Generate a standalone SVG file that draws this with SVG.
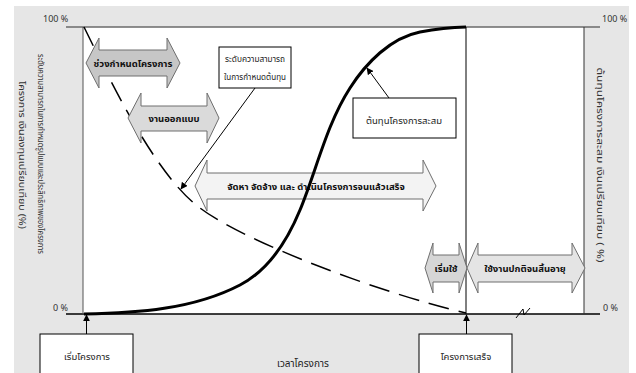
<svg xmlns="http://www.w3.org/2000/svg" width="636" height="373" viewBox="0 0 636 373">
  <defs>
    <style>
      .t { font-family: "Noto Sans Thai", "Tahoma", "Leelawadee UI", "DejaVu Sans", "Liberation Sans", sans-serif; fill: #222; }
      .lbl { font-size: 9.5px; text-anchor: middle; }
      .ax { font-size: 9px; fill: #333; }
      .vax { font-size: 8.5px; fill: #333; text-anchor: middle; }
      .ph { font-size: 9.5px; font-weight: bold; text-anchor: middle; fill: #111; }
      .box { fill: #fff; stroke: #000; stroke-width: 1; }
      .band { stroke: #6e6e6e; stroke-width: 1; }
      .lead { stroke: #000; stroke-width: 1; fill: none; }
    </style>
    <marker id="tip" viewBox="0 0 10 10" refX="9" refY="5" markerWidth="7" markerHeight="7" orient="auto-start-reverse" markerUnits="userSpaceOnUse">
      <path d="M0,0 L10,5 L0,10 Z" fill="#000"/>
    </marker>
  </defs>

  <!-- canvas -->
  <rect x="0" y="0" width="636" height="373" fill="#fff"/>
  <rect x="14" y="6" width="615" height="367" fill="#e6e6e6"/>
  <rect x="83" y="27" width="501" height="287" fill="#fff"/>

  <!-- axes and frame -->
  <g id="axes">
    <line x1="66" y1="27" x2="600" y2="27" stroke="#6a6a6a" stroke-width="1.5"/>
    <line x1="66" y1="314" x2="600" y2="314" stroke="#000" stroke-width="1.3"/>
    <line x1="83" y1="27" x2="83" y2="314" stroke="#555" stroke-width="1"/>
    <line x1="466" y1="27" x2="466" y2="314" stroke="#000" stroke-width="1"/>
    <line x1="584" y1="27" x2="584" y2="314" stroke="#333" stroke-width="1"/>
    <path d="M516,318 L523,309 L524,315 L530,308" fill="none" stroke="#000" stroke-width="1"/>
    <text class="t ax" x="43" y="22">100 %</text>
    <text class="t ax" x="602" y="22">100 %</text>
    <text class="t ax" x="53" y="311">0 %</text>
    <text class="t ax" x="603" y="311">0 %</text>
    <text class="t vax" transform="translate(38,154) rotate(90)" textLength="200" lengthAdjust="spacingAndGlyphs">ระดับความสามารถในการกำหนดรูปแบบและประสิทธิภาพของโครงการ</text>
    <text class="t vax" transform="translate(19,155) rotate(90)" textLength="148" lengthAdjust="spacingAndGlyphs">โครงการ เงินลงทุนเปรียบเทียบ (%)</text>
    <text class="t vax" transform="translate(597,165) rotate(90)" textLength="195" lengthAdjust="spacingAndGlyphs">ต้นทุนโครงการสะสม เงินเปรียบเทียบ ( %)</text>
    <text class="t" x="303" y="367" font-size="10" text-anchor="middle" fill="#333">เวลาโครงการ</text>
  </g>

  <!-- ability to influence cost (dashed) -->
  <g id="influence-curve">
    <path d="M84,27 C110,80 155,175 200,208 C245,242 380,293 466,313" fill="none" stroke="#000" stroke-width="1.5" stroke-dasharray="21 10"/>
  </g>

  <!-- phase bands -->
  <g id="phase-definition">
    <path class="band" fill="#c6c6c6" d="M86,63 L99,38 L99,50 L167,50 L167,38 L180,63 L167,88 L167,76 L99,76 L99,88 Z"/>
    <text class="t ph" x="133" y="67">ช่วงกำหนดโครงการ</text>
  </g>
  <g id="phase-design">
    <path class="band" fill="#dadada" d="M128,118 L141,93 L141,106 L207,106 L207,93 L219,118 L207,143 L207,131 L141,131 L141,143 Z"/>
    <text class="t ph" x="174" y="122">งานออกแบบ</text>
  </g>
  <g id="phase-procurement">
    <path class="band" fill="#f3f3f3" d="M195,186 L207,160 L207,173 L423,173 L423,160 L436,186 L423,211 L423,199 L207,199 L207,211 Z"/>
    <text class="t ph" x="316" y="190">จัดหา จัดจ้าง และ ดำเนินโครงการจนแล้วเสร็จ</text>
  </g>
  <g id="phase-startup">
    <path class="band" fill="#d6d6d6" d="M425,268 L433,243 L433,255 L459,255 L459,243 L467,268 L459,293 L459,282 L433,282 L433,293 Z"/>
    <text class="t ph" x="446" y="272">เริ่มใช้</text>
  </g>
  <g id="phase-operation">
    <path class="band" fill="#e4e4e4" d="M467,268 L478,243 L478,255 L572,255 L572,243 L585,268 L572,293 L572,282 L478,282 L478,293 Z"/>
    <text class="t ph" x="525" y="272">ใช้งานปกติจนสิ้นอายุ</text>
  </g>

  <!-- cumulative cost (solid S-curve) -->
  <g id="cost-curve">
    <path d="M84,314 C137,313 193,309.5 240,285 C268.4,270.2 287.8,239.6 300,210 C316.8,169.3 326.2,125 350,88 C366.1,62.9 390.6,37.8 420,32 C435.1,29 450.6,27.2 466,27" fill="none" stroke="#000" stroke-width="3"/>
  </g>

  <!-- callouts -->
  <g id="note-influence">
    <rect class="box" x="219" y="47" width="72" height="41"/>
    <text class="t lbl" x="255" y="62" font-size="8.3" textLength="60" lengthAdjust="spacingAndGlyphs">ระดับความสามารถ</text>
    <text class="t lbl" x="255" y="80" font-size="8.3" textLength="62" lengthAdjust="spacingAndGlyphs">ในการกำหนดต้นทุน</text>
  </g>
  <g id="note-cost">
    <rect class="box" x="353" y="98" width="103" height="40"/>
    <text class="t lbl" x="404" y="124">ต้นทุนโครงการสะสม</text>
  </g>
  <g id="milestone-start">
    <rect class="box" x="40" y="334" width="93" height="45"/>
    <text class="t lbl" x="87" y="360">เริ่มโครงการ</text>
  </g>
  <g id="milestone-finish">
    <rect class="box" x="419" y="334" width="93" height="45"/>
    <text class="t lbl" x="466" y="360">โครงการเสร็จ</text>
  </g>

  <!-- connectors -->
  <g id="connectors">
    <line class="lead" x1="255" y1="88" x2="181" y2="189" marker-end="url(#tip)"/>
    <line class="lead" x1="389" y1="98" x2="367" y2="68" marker-end="url(#tip)"/>
    <line class="lead" x1="86.5" y1="334" x2="86.5" y2="315" marker-end="url(#tip)"/>
    <line class="lead" x1="466.5" y1="334" x2="466.5" y2="315" marker-end="url(#tip)"/>
  </g>
</svg>
